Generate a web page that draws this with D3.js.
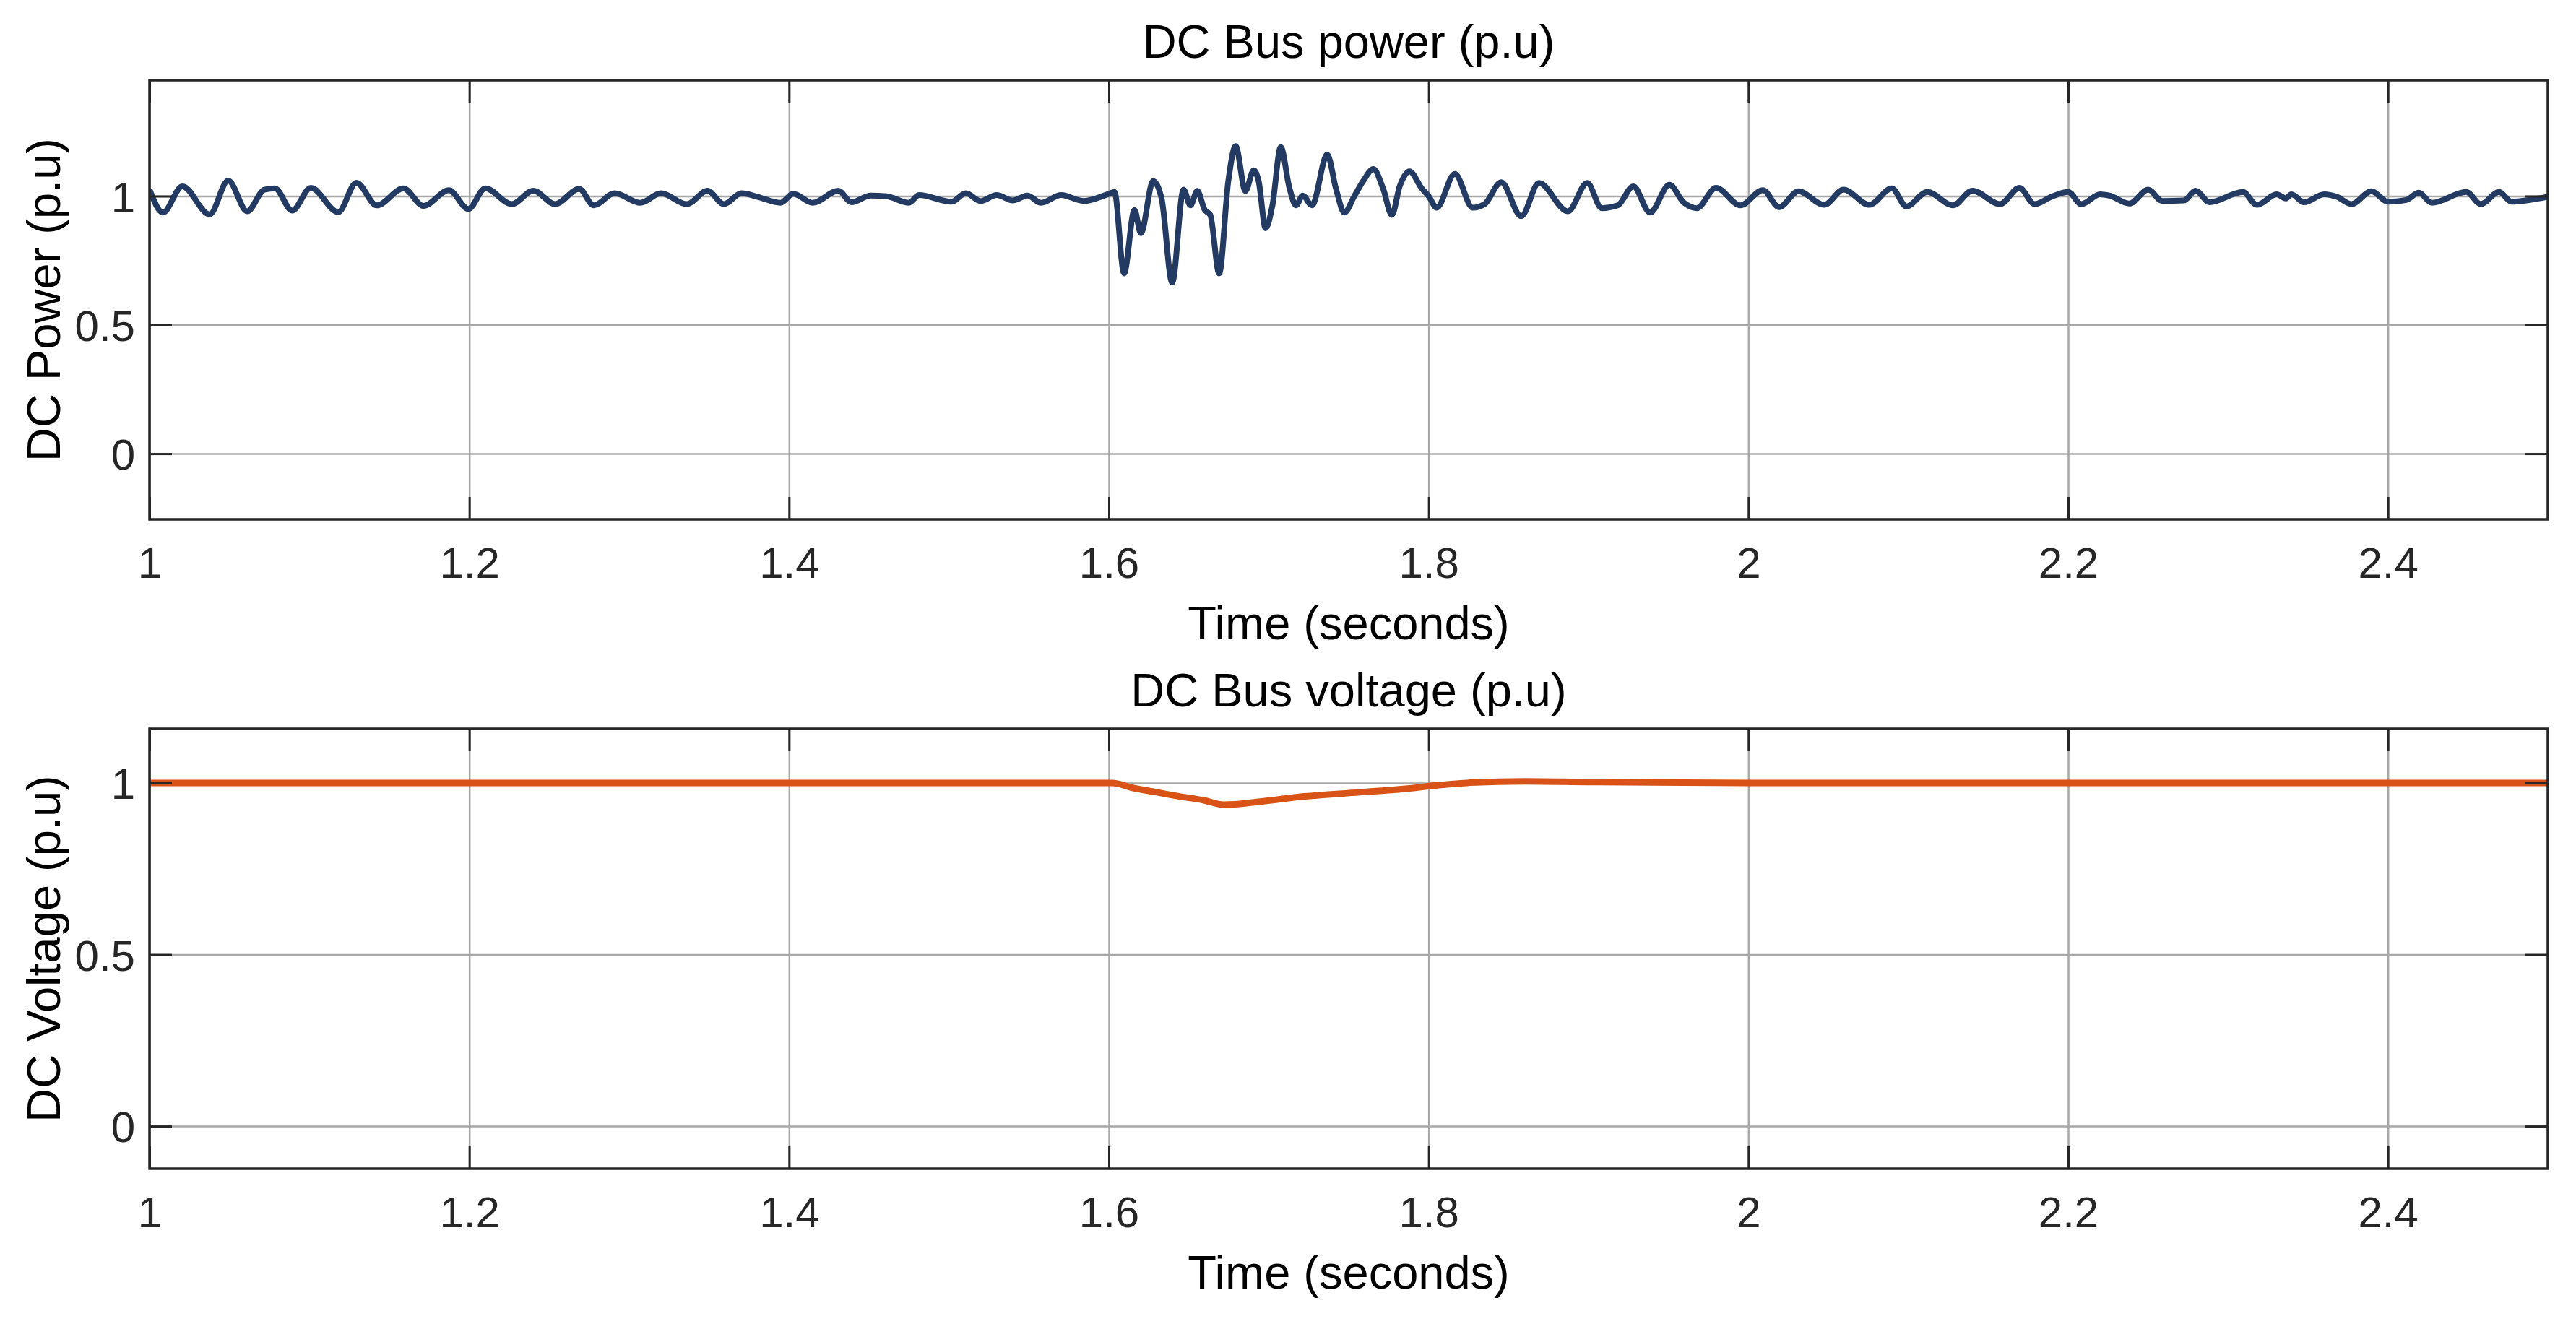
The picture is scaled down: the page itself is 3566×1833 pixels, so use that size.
<!DOCTYPE html>
<html>
<head>
<meta charset="utf-8">
<script src="https://cdn.jsdelivr.net/npm/d3@7"></script>
<style>
  body { margin: 0; background: #fff; }
  text { font-family: "Liberation Sans", Arial, Helvetica, sans-serif; fill: #262626; }
  .grid line { stroke: #a8a8a8; stroke-width: 2.5; }
  .grid path, .ticks path, .labels path { display: none; }
  .ticks line { stroke: #262626; stroke-width: 3; }
</style>
</head>
<body>
<svg id="chart" width="3566" height="1833"></svg>
<script>
// time axis ticks, shared by both panels
var xTicks = [1, 1.2, 1.4, 1.6, 1.8, 2, 2.2, 2.4];
var yTicks = [0, 0.5, 1];

// DC bus power (p.u) at peaks / troughs
var powerTime = [
  1.0000, 1.0084, 1.0205, 1.0376, 1.0492, 1.0611, 1.0718, 1.0784, 1.0892, 1.1009,
  1.1180, 1.1294, 1.1421, 1.1588, 1.1713, 1.1873, 1.1994, 1.2100, 1.2266, 1.2400,
  1.2537, 1.2687, 1.2778, 1.2909, 1.3070, 1.3199, 1.3360, 1.3490, 1.3592, 1.3703,
  1.3804, 1.3946, 1.4026, 1.4147, 1.4309, 1.4390, 1.4511, 1.4611, 1.4749, 1.4813,
  1.5015, 1.5106, 1.5197, 1.5298, 1.5399, 1.5490, 1.5576, 1.5701, 1.5843, 1.6006,
  1.6035, 1.6095, 1.6160, 1.6200, 1.6277, 1.6330, 1.6396, 1.6467, 1.6510, 1.6553,
  1.6600, 1.6634, 1.6690, 1.6747, 1.6793, 1.6854, 1.6906, 1.6937, 1.6980, 1.7023,
  1.7075, 1.7130, 1.7170, 1.7213, 1.7270, 1.7366, 1.7420, 1.7473, 1.7533, 1.7590,
  1.7654, 1.7715, 1.7770, 1.7820, 1.7880, 1.7957, 1.8000, 1.8050, 1.8164, 1.8276,
  1.8350, 1.8454, 1.8579, 1.8690, 1.8871, 1.8992, 1.9083, 1.9183, 1.9280, 1.9385,
  1.9506, 1.9597, 1.9677, 1.9798, 1.9950, 2.0091, 2.0192, 2.0313, 2.0474, 2.0595,
  2.0756, 2.0897, 2.0988, 2.1119, 2.1280, 2.1401, 2.1574, 2.1695, 2.1790, 2.1904,
  2.2000, 2.2082, 2.2200, 2.2257, 2.2383, 2.2501, 2.2588, 2.2724, 2.2797, 2.2884,
  2.3093, 2.3180, 2.3305, 2.3362, 2.3396, 2.3476, 2.3601, 2.3681, 2.3772, 2.3897,
  2.4000, 2.4114, 2.4194, 2.4273, 2.4490, 2.4581, 2.4695, 2.4774, 2.4888, 2.5000
];
var powerValue = [
  1.025, 0.936, 1.038, 0.929, 1.060, 0.941, 1.025, 1.030, 0.944, 1.032,
  0.938, 1.052, 0.964, 1.030, 0.962, 1.023, 0.950, 1.030, 0.969, 1.021,
  0.969, 1.028, 0.964, 1.011, 0.974, 1.011, 0.969, 1.021, 0.969, 1.011,
  0.997, 0.974, 1.009, 0.974, 1.021, 0.976, 1.002, 0.999, 0.974, 1.004,
  0.978, 1.011, 0.981, 1.004, 0.983, 1.002, 0.974, 1.004, 0.981, 1.010,
  1.016, 0.700, 0.946, 0.856, 1.058, 0.990, 0.664, 1.025, 0.964, 1.020,
  0.946, 0.927, 0.700, 1.058, 1.194, 1.020, 1.100, 1.058, 0.875, 0.964,
  1.190, 1.030, 0.964, 1.002, 0.964, 1.161, 1.030, 0.936, 0.997, 1.058,
  1.105, 1.030, 0.927, 1.040, 1.096, 1.030, 1.000, 0.955, 1.086, 0.955,
  0.969, 1.054, 0.922, 1.051, 0.941, 1.051, 0.953, 0.964, 1.038, 0.936,
  1.044, 0.974, 0.953, 1.032, 0.964, 1.023, 0.957, 1.019, 0.966, 1.025,
  0.966, 1.030, 0.960, 1.016, 0.964, 1.021, 0.969, 1.032, 0.969, 1.000,
  1.016, 0.969, 1.007, 1.002, 0.971, 1.025, 0.981, 0.983, 1.021, 0.976,
  1.016, 0.966, 1.007, 0.991, 1.007, 0.976, 1.007, 0.997, 0.969, 1.019,
  0.978, 0.985, 1.013, 0.974, 1.016, 0.969, 1.016, 0.978, 0.985, 0.997
];

// DC bus voltage (p.u)
var voltageTime = [1.0, 1.6, 1.6023, 1.6138, 1.630, 1.6415, 1.660, 1.6715, 1.6784, 1.6946,
  1.7223, 1.7569, 1.7915, 1.8007, 1.8261, 1.8607, 1.8994, 2.0, 2.5];
var voltageValue = [1.000, 1.000, 1.000, 0.987, 0.973, 0.963, 0.949, 0.937, 0.938, 0.946,
  0.961, 0.973, 0.986, 0.991, 1.001, 1.005, 1.003, 1.000, 1.000];

var svg = d3.select("#chart");
svg.append("rect").attr("width", 3566).attr("height", 1833).attr("fill", "#fff");

function drawPanel(opt) {
    var left = 207, right = 3527,
        width = right - left,
        height = opt.bottom - opt.top;

    var g = svg.append("g").attr("transform", "translate(" + left + "," + opt.top + ")");

    var x = d3.scaleLinear().domain([1, 2.5]).range([0, width]),
        y = d3.scaleLinear().domain(opt.yDomain).range([height, 0]);

    // grid
    g.append("g").attr("class", "grid")
        .attr("transform", "translate(0," + height + ")")
        .call(d3.axisBottom(x).tickValues(xTicks).tickSize(-height).tickFormat(""));
    g.append("g").attr("class", "grid")
        .call(d3.axisLeft(y).tickValues(yTicks).tickSize(-width).tickFormat(""));

    // line
    var clipId = "clip-" + opt.id;
    g.append("clipPath").attr("id", clipId)
        .append("rect").attr("width", width).attr("height", height);

    var pts = opt.t.map(function (t, i) { return { t: t, v: opt.v[i] }; });
    var line = d3.line()
        .curve(d3.curveMonotoneX)
        .x(function (d) { return x(d.t); })
        .y(function (d) { return y(d.v); });

    g.append("path")
        .datum(pts)
        .attr("clip-path", "url(#" + clipId + ")")
        .attr("d", line)
        .attr("fill", "none")
        .attr("stroke", opt.color)
        .attr("stroke-width", opt.lw)
        .attr("stroke-linejoin", "round");

    // inward ticks on all four sides
    var tk = 31;
    g.append("g").attr("class", "ticks").attr("transform", "translate(0," + height + ")")
        .call(d3.axisBottom(x).tickValues(xTicks).tickSizeInner(-tk).tickSizeOuter(0).tickFormat(""));
    g.append("g").attr("class", "ticks")
        .call(d3.axisTop(x).tickValues(xTicks).tickSizeInner(-tk).tickSizeOuter(0).tickFormat(""));
    g.append("g").attr("class", "ticks")
        .call(d3.axisLeft(y).tickValues(yTicks).tickSizeInner(-tk).tickSizeOuter(0).tickFormat(""));
    g.append("g").attr("class", "ticks").attr("transform", "translate(" + width + ",0)")
        .call(d3.axisRight(y).tickValues(yTicks).tickSizeInner(-tk).tickSizeOuter(0).tickFormat(""));

    // frame
    g.append("rect")
        .attr("width", width).attr("height", height)
        .attr("fill", "none").attr("stroke", "#262626").attr("stroke-width", 3.5);

    // tick labels
    var xl = g.append("g").attr("class", "labels")
        .attr("transform", "translate(0," + height + ")")
        .call(d3.axisBottom(x).tickValues(xTicks).tickSize(0).tickPadding(0).tickFormat(d3.format("")));
    xl.selectAll("text").attr("font-size", 60).attr("dy", null).attr("y", 81)
        .style("font-family", "'Liberation Sans', Arial, sans-serif").attr("fill", "#262626");

    var yl = g.append("g").attr("class", "labels")
        .call(d3.axisLeft(y).tickValues(yTicks).tickSize(0).tickPadding(20).tickFormat(d3.format("")));
    yl.selectAll("text").attr("font-size", 60).attr("dy", "0.36em")
        .style("font-family", "'Liberation Sans', Arial, sans-serif").attr("fill", "#262626");

    // title and axis labels
    g.append("text")
        .attr("x", width / 2).attr("y", -31)
        .attr("text-anchor", "middle").attr("font-size", 65).style("fill", "#000")
        .text(opt.title);

    g.append("text")
        .attr("x", width / 2).attr("y", height + 166)
        .attr("text-anchor", "middle").attr("font-size", 65).style("fill", "#000")
        .text("Time (seconds)");

    g.append("text")
        .attr("transform", "translate(" + (83 - left) + "," + (height / 2) + ") rotate(-90)")
        .attr("text-anchor", "middle").attr("font-size", 65).style("fill", "#000")
        .text(opt.yLabel);
}

drawPanel({ id: "p", top: 111, bottom: 719, yDomain: [-0.255, 1.45],
    t: powerTime, v: powerValue, color: "#233a62", lw: 8,
    title: "DC Bus power (p.u)", yLabel: "DC Power (p.u)" });

drawPanel({ id: "v", top: 1009, bottom: 1618, yDomain: [-0.124, 1.158],
    t: voltageTime, v: voltageValue, color: "#d95319", lw: 9,
    title: "DC Bus voltage (p.u)", yLabel: "DC Voltage (p.u)" });
</script>
</body>
</html>
